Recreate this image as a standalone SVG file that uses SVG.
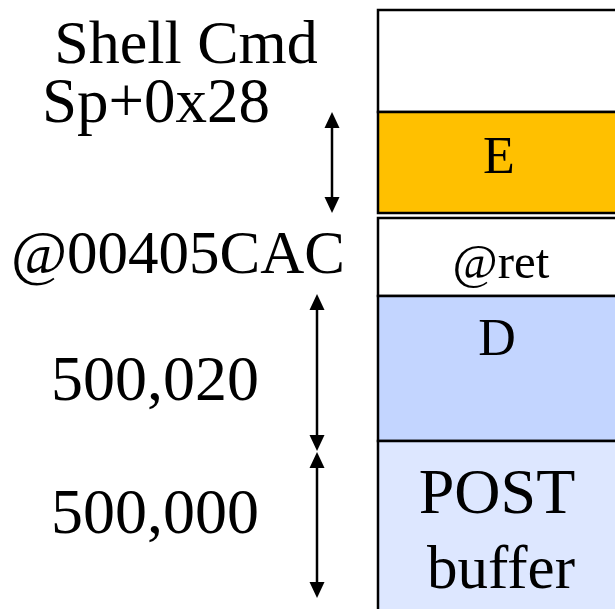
<svg xmlns="http://www.w3.org/2000/svg" width="615" height="609" viewBox="0 0 615 609">
<style>
.box{stroke:#000;stroke-width:2.5}
.lbl{font-family:"Liberation Serif","Times New Roman",serif;fill:#000}
.conn{stroke:#000;stroke-width:2.5;fill:none}
.head{fill:#000}
</style>
<rect width="615" height="609" fill="#fff"/>
<g id="slot-top"><rect class="box" x="378" y="10" width="260" height="102" fill="#fff"/></g>
<g id="slot-E"><rect class="box" x="378" y="112" width="260" height="101" fill="#FFC000"/>
<text class="lbl" x="499" y="173" font-size="52" text-anchor="middle">E</text></g>
<g id="slot-ret"><rect class="box" x="378" y="218" width="260" height="78" fill="#fff"/>
<text class="lbl" x="501" y="278" font-size="49" text-anchor="middle">@ret</text></g>
<g id="slot-D"><rect class="box" x="378" y="296" width="260" height="145" fill="#C3D5FF"/>
<text class="lbl" x="497" y="355" font-size="52" text-anchor="middle">D</text></g>
<g id="slot-POST"><rect class="box" x="378" y="441" width="260" height="200" fill="#DDE7FF"/>
<text class="lbl" x="497" y="513" font-size="64" text-anchor="middle">POST</text>
<text class="lbl" x="501" y="588" font-size="61" text-anchor="middle">buffer</text></g>
<g id="labels">
<text class="lbl" x="186" y="63" font-size="62" text-anchor="middle">Shell Cmd</text>
<text class="lbl" x="156" y="122" font-size="63" text-anchor="middle">Sp+0x28</text>
<text class="lbl" x="178" y="273" font-size="61" text-anchor="middle">@00405CAC</text>
<text class="lbl" x="155" y="400" font-size="64" text-anchor="middle">500,020</text>
<text class="lbl" x="155" y="533" font-size="64" text-anchor="middle">500,000</text>
</g>
<g id="connectors">
<line class="conn" x1="332" y1="125" x2="332" y2="200"/>
<polygon class="head" points="332,112 324.5,128 339.5,128"/>
<polygon class="head" points="332,213 324.5,197 339.5,197"/>
<line class="conn" x1="317" y1="306" x2="317" y2="438"/>
<polygon class="head" points="317,294 309.5,310 324.5,310"/>
<polygon class="head" points="317,451 309.5,435 324.5,435"/>
<line class="conn" x1="317" y1="465" x2="317" y2="586"/>
<polygon class="head" points="317,452 309.5,468 324.5,468"/>
<polygon class="head" points="317,598 309.5,582 324.5,582"/>
</g>
</svg>
